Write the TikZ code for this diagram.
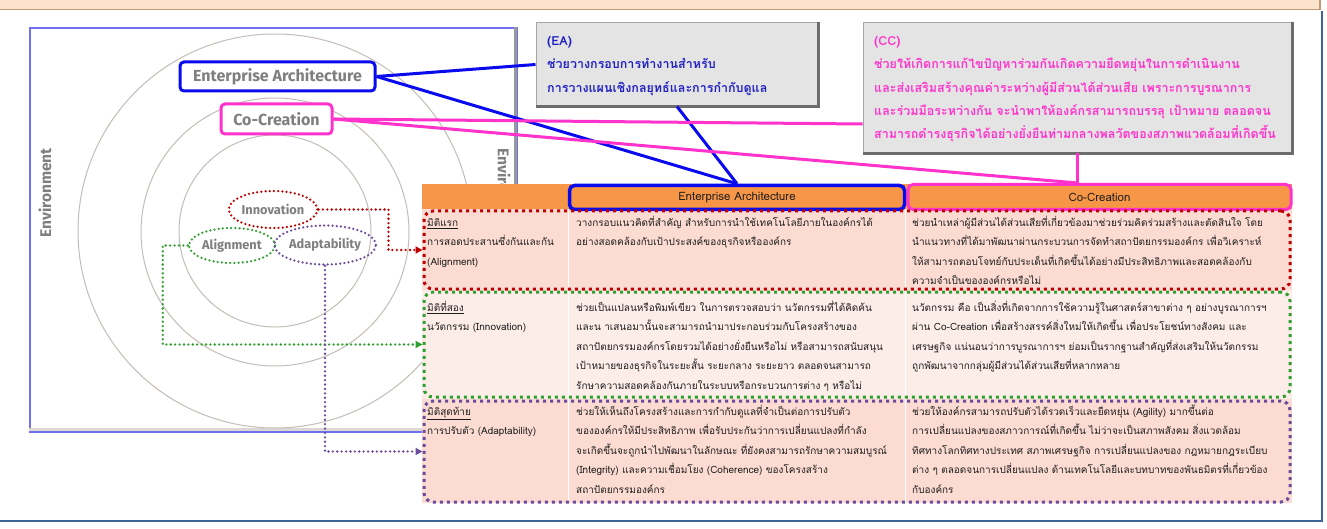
\documentclass[tikz,border=0pt]{standalone}
\usepackage{fontspec}
\setmainfont[Script=Thai]{Loma}
\newfontfamily\labelfont{Fira Sans}
\usetikzlibrary{arrows.meta,calc,shapes.geometric}

\definecolor{peach}{HTML}{FCE3CD}
\definecolor{peachedge}{HTML}{C09A78}
\definecolor{framec}{HTML}{3F6595}
\definecolor{panelblue}{HTML}{7070F0}
\definecolor{ring}{HTML}{C4BDB5}
\definecolor{labgray}{HTML}{7F7F7F}
\definecolor{eablue}{HTML}{0A0AEE}
\definecolor{ccmag}{HTML}{FF33CC}
\definecolor{eatext}{HTML}{2222C4}
\definecolor{hdrorange}{HTML}{F79646}
\definecolor{rowa}{HTML}{FCDCD2}
\definecolor{rowb}{HTML}{FDEDE9}
\definecolor{tabtext}{HTML}{1E1E1E}
\definecolor{dred}{HTML}{C00000}
\definecolor{dgreen}{HTML}{2FA02F}
\definecolor{dpurple}{HTML}{6A4C9C}
\definecolor{callfill}{HTML}{E4E4E4}
\definecolor{calledge}{HTML}{A6A6A6}
\definecolor{callshade}{HTML}{6C6C6C}

\newcommand\tblfont{\fontsize{10}{19.5}\selectfont}
\newcommand\calfont{\fontsize{12.5}{23.3}\selectfont\bfseries}

\tikzset{
  ringline/.style={draw=ring, line width=1pt},
  envtext/.style={font=\labelfont\fontsize{15.5}{17}\selectfont\bfseries, text=labgray, inner sep=0pt},
  tagbox/.style={rectangle, rounded corners=4pt, line width=3pt, fill=white,
    inner sep=0pt, font=\labelfont\fontsize{16}{18}\selectfont\bfseries, text=labgray},
  loopmark/.style={ellipse, line width=2.5pt, line cap=round,
    dash pattern=on 0pt off 4.2pt, inner sep=0pt,
    font=\labelfont\fontsize{12.8}{14}\selectfont\bfseries, text=labgray},
  link/.style={line width=2.6pt, line cap=round, dash pattern=on 0pt off 4.4pt,
    -{Triangle[length=7pt,width=7pt]}},
  ealine/.style={draw=eablue, line width=3pt},
  ccline/.style={draw=ccmag, line width=3pt},
  callout/.style={rectangle, fill=callfill, draw=calledge, line width=1pt, inner sep=0pt},
  calshade/.style={draw=callshade, line width=2.5pt},
  calltext/.style={anchor=north west, inner sep=0pt, align=left, font=\calfont},
  hdrbox/.style={rectangle, rounded corners=5pt, fill=hdrorange, inner sep=0pt,
    font=\fontsize{11.5}{13}\selectfont, text=tabtext},
  rowframe/.style={rectangle, rounded corners=9pt, line width=3pt,
    dash pattern=on 3pt off 4pt, inner sep=0pt},
  cell/.style={anchor=north west, inner sep=0pt, align=left, font=\tblfont, text=tabtext},
}

\begin{document}
\begin{tikzpicture}[x=1pt, y=-1pt]
\useasboundingbox (0,0) rectangle (1327,529);

% page band and frame
\fill[peach] (0,0) rectangle (1320,9);
\draw[peachedge, line width=1.5pt] (0,9.5) -- (1320,9.5) -- (1320,0);
\draw[framec, line width=2pt] (1322,11) -- (1322,521) -- (0,521);

% model panel
\node[rectangle, fill=white, draw=panelblue, line width=1.3pt, inner sep=0pt,
  minimum width=487, minimum height=404] (panel) at (273.5,230) {};
\draw[draw=labgray!80, line width=3pt] ([xshift=-2.5pt]panel.north east) -- ([xshift=-2.5pt]panel.south east);
\draw[draw=ring!60, line width=2.5pt] ([yshift=3pt]panel.south west) -- ([yshift=3pt, xshift=-4pt]panel.south east);

% concentric rings
\draw[ringline] (275,231) circle[radius=197];
\draw[ringline] (275,232) circle[radius=134];
\draw[ringline] (275,231) circle[radius=96];

\node[envtext, rotate=90] (envL) at (45,193) {Environment};
\node[envtext, rotate=-90] (envR) at (504,193) {Environment};

% ring labels
\node[tagbox, draw=eablue, minimum width=195, minimum height=29] (eatag) at (277.5,76.5) {Enterprise Architecture};
\node[tagbox, draw=ccmag, minimum width=111, minimum height=30] (cctag) at (276.5,119) {Co-Creation};

\node[loopmark, draw=dred, minimum width=82, minimum height=37] (inno) at (273,209.5) {Innovation};
\node[loopmark, draw=dgreen, minimum width=86, minimum height=35] (align) at (232,245.5) {Alignment};
\node[loopmark, draw=dpurple, minimum width=86, minimum height=39] (adapt) at (325,245) {Adaptability};

% callouts
\node[callout, minimum width=282, minimum height=83] (eacall) at (677,64.5) {};
\draw[calshade] (eacall.north east) -- (eacall.south east) -- (eacall.south west);
\node[callout, minimum width=429, minimum height=130] (cccall) at (1077.5,88) {};
\draw[calshade] (cccall.north east) -- (cccall.south east) -- (cccall.south west);

\node[calltext, text=eatext] (eatxt) at (547,29) {\strut(EA)\\ช่วยวางกรอบการทำงานสำหรับ\\การวางแผนเชิงกลยุทธ์และการกำกับดูแล};
\node[calltext, text=ccmag] (cctxt) at (874,29) {\strut(CC)\\ช่วยให้เกิดการแก้ไขปัญหาร่วมกันเกิดความยืดหยุ่นในการดำเนินงาน\\และส่งเสริมสร้างคุณค่าระหว่างผู้มีส่วนได้ส่วนเสีย เพราะการบูรณาการ\\และร่วมมือระหว่างกัน จะนำพาให้องค์กรสามารถบรรลุ เป้าหมาย ตลอดจน\\สามารถดำรงธุรกิจได้อย่างยั่งยืนท่ามกลางพลวัตของสภาพแวดล้อมที่เกิดขึ้น};

% table body
\node[rectangle, fill=hdrorange, inner sep=0pt, minimum width=870, minimum height=25] (hband) at (857,197) {};
\node[rectangle, fill=rowa, inner sep=0pt, minimum width=870, minimum height=81] (rowA) at (857,249.5) {};
\node[rectangle, fill=rowb, inner sep=0pt, minimum width=870, minimum height=109] (rowB) at (857,344.5) {};
\node[rectangle, fill=rowa, inner sep=0pt, minimum width=870, minimum height=104] (rowC) at (857,451) {};
\draw[white, line width=1pt] (568,209) -- (568,503) (905,209) -- (905,503);

\node[hdrbox, draw=eablue, line width=3.5pt, minimum width=335, minimum height=24] (eahead) at (737,197.5) {Enterprise Architecture};
\node[hdrbox, draw=ccmag, line width=3pt, minimum width=383, minimum height=25] (cchead) at (1099.5,197) {Co-Creation};

\node[rowframe, draw=dred, minimum width=866, minimum height=78] (f1) at (857,250) {};
\node[rowframe, draw=dgreen, minimum width=866, minimum height=105] (f2) at (857,344.5) {};
\node[rowframe, draw=dpurple, minimum width=866, minimum height=101] (f3) at (857,451.5) {};

% connectors from the ring labels
\draw[ealine] (eatag.east) -- (eacall.west);
\draw[ealine] (eatag.east) -- (eahead.north);
\draw[ealine] (eacall.south) -- (eahead.north);
\draw[ccline] (cctag.east) -- ([yshift=-36pt]cccall.west);
\draw[ccline] (cctag.east) -- (cccall.south |- cchead.north);
\draw[ccline] (cccall.south) -- (cccall.south |- cchead.north);

\draw[link, draw=dred] (inno.east) -| ([xshift=-34pt]f1.west) -- (f1.west);
\draw[link, draw=dgreen] (align.west) -- ++(-25,0) |- (f2.west);
\draw[link, draw=dpurple] (adapt.south) |- (f3.west);

% table text
\node[cell] (c11) at (427,212.5) {\strut\underline{มิติแรก}\\การสอดประสานซึ่งกันและกัน\\(Alignment)};
\node[cell] (c12) at (576,212.5) {\strut วางกรอบแนวคิดที่สำคัญ สำหรับการนำใช้เทคโนโลยีภายในองค์กรได้\\อย่างสอดคล้องกับเป้าประสงค์ของธุรกิจหรือองค์กร};
\node[cell] (c13) at (912,212.5) {\strut ช่วยนำเหล่าผู้มีส่วนได้ส่วนเสียที่เกี่ยวข้องมาช่วยร่วมคิดร่วมสร้างและตัดสินใจ โดย\\นำแนวทางที่ได้มาพัฒนาผ่านกระบวนการจัดทำสถาปัตยกรรมองค์กร เพื่อวิเคราะห์\\ให้สามารถตอบโจทย์กับประเด็นที่เกิดขึ้นได้อย่างมีประสิทธิภาพและสอดคล้องกับ\\ความจำเป็นขององค์กรหรือไม่};

\node[cell] (c21) at (427,297.5) {\strut\underline{มิติที่สอง}\\นวัตกรรม (Innovation)};
\node[cell] (c22) at (576,297.5) {\strut ช่วยเป็นแปลนหรือพิมพ์เขียว ในการตรวจสอบว่า นวัตกรรมที่ได้คิดค้น\\และน าเสนอมานั้นจะสามารถนำมาประกอบร่วมกับโครงสร้างของ\\สถาปัตยกรรมองค์กรโดยรวมได้อย่างยั่งยืนหรือไม่ หรือสามารถสนับสนุน\\เป้าหมายของธุรกิจในระยะสั้น ระยะกลาง ระยะยาว ตลอดจนสามารถ\\รักษาความสอดคล้องกันภายในระบบหรือกระบวนการต่าง ๆ หรือไม่};
\node[cell] (c23) at (912,297.5) {\strut นวัตกรรม คือ เป็นสิ่งที่เกิดจากการใช้ความรู้ในศาสตร์สาขาต่าง ๆ อย่างบูรณาการฯ\\ผ่าน Co-Creation เพื่อสร้างสรรค์สิ่งใหม่ให้เกิดขึ้น เพื่อประโยชน์ทางสังคม และ\\เศรษฐกิจ แน่นอนว่าการบูรณาการฯ ย่อมเป็นรากฐานสำคัญที่ส่งเสริมให้นวัตกรรม\\ถูกพัฒนาจากกลุ่มผู้มีส่วนได้ส่วนเสียที่หลากหลาย};

\node[cell] (c31) at (427,401.5) {\strut\underline{มิติสุดท้าย}\\การปรับตัว (Adaptability)};
\node[cell] (c32) at (576,401.5) {\strut ช่วยให้เห็นถึงโครงสร้างและการกำกับดูแลที่จำเป็นต่อการปรับตัว\\ขององค์กรให้มีประสิทธิภาพ เพื่อรับประกันว่าการเปลี่ยนแปลงที่กำลัง\\จะเกิดขึ้นจะถูกนำไปพัฒนาในลักษณะ ที่ยังคงสามารถรักษาความสมบูรณ์\\(Integrity) และความเชื่อมโยง (Coherence) ของโครงสร้าง\\สถาปัตยกรรมองค์กร};
\node[cell] (c33) at (912,401.5) {\strut ช่วยให้องค์กรสามารถปรับตัวได้รวดเร็วและยืดหยุ่น (Agility) มากขึ้นต่อ\\การเปลี่ยนแปลงของสภาวการณ์ที่เกิดขึ้น ไม่ว่าจะเป็นสภาพสังคม สิ่งแวดล้อม\\ทิศทางโลกทิศทางประเทศ สภาพเศรษฐกิจ การเปลี่ยนแปลงของ กฎหมายกฎระเบียบ\\ต่าง ๆ ตลอดจนการเปลี่ยนแปลง ด้านเทคโนโลยีและบทบาทของพันธมิตรที่เกี่ยวข้อง\\กับองค์กร};
\end{tikzpicture}
\end{document}
